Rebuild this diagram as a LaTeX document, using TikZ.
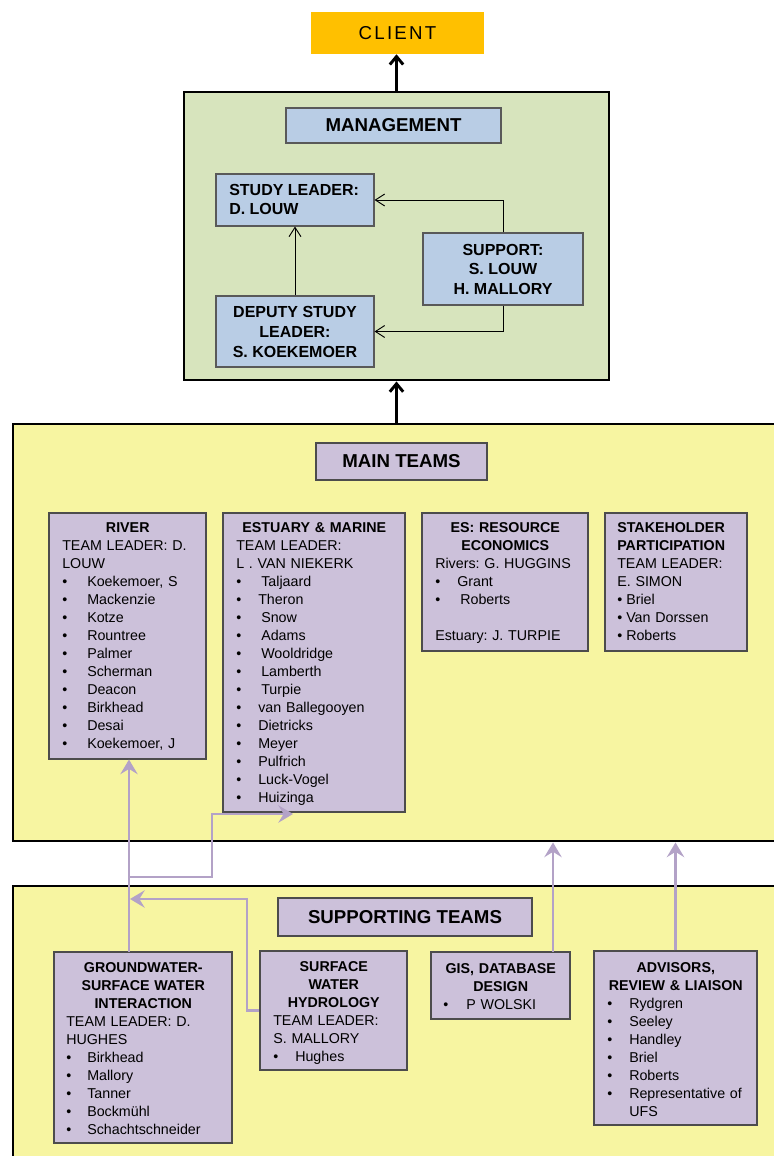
\documentclass[tikz,border=0pt]{standalone}
\usepackage{fontspec}
\setmainfont{Liberation Sans}
\usetikzlibrary{arrows.meta,fit}
\definecolor{clientor}{HTML}{FFC000}
\definecolor{mgmtgreen}{HTML}{D7E4BD}
\definecolor{mgmtblue}{HTML}{B9CDE5}
\definecolor{teamyel}{HTML}{F7F5A1}
\definecolor{lav}{HTML}{CCC1DA}
\definecolor{lavline}{HTML}{B3A2C7}
\newcommand\bi[2]{\makebox[#1][l]{\textbullet}#2}
\newcommand\ttl[2]{\makebox[#1][c]{\bfseries #2}}
\frenchspacing
\begin{document}
\begin{tikzpicture}[x=0.75pt,y=-0.75pt,
  frame/.style={draw=black, line width=2.2pt, inner sep=0pt},
  mbox/.style={draw=black!65, line width=0.8pt, fill=mgmtblue, inner sep=0pt},
  tbox/.style={draw=black!70, line width=0.8pt, fill=lav, inner sep=0pt},
  bigttl/.style={inner sep=0pt, font=\fontsize{14}{16}\selectfont\bfseries},
  txt/.style={anchor=north west, inner sep=0pt, text width=220pt, align=left,
    font=\fontsize{10.7}{13.5}\selectfont\frenchspacing},
  mtxt/.style={inner sep=0pt, font=\fontsize{12}{14.6}\selectfont\bfseries},
  blackarrow/.style={draw=black, line width=2.2pt, -{Straight Barb[length=6pt,width=10pt]}},
  thinarrow/.style={draw=black, line width=0.7pt, -{Straight Barb[length=7pt,width=9pt]}},
  purparrow/.style={draw=lavline, line width=2.2pt, -{Stealth[length=11pt,width=13pt,inset=4pt]}},
]
\useasboundingbox (0,0) rectangle (774,1156);
\clip (0,0) rectangle (774,1156);
\fill[white] (0,0) rectangle (774,1156);

% outer frames
\node[frame, fill=mgmtgreen, fit={(184,92) (609,380)}] (mgmt) {};
\node[frame, fill=teamyel, fit={(13,424) (800,841)}] (mainbox) {};
\node[frame, fill=teamyel, fit={(13,886) (800,1190)}] (suppbox) {};

% client
\node[fill=clientor, inner sep=0pt, fit={(311,12) (484,54)}] (client) {};
\node[inner sep=0pt, font=\fontsize{14}{16}\selectfont\addfontfeature{LetterSpace=12}] (clientt) at (client.center) {CLIENT};

% management inner boxes
\node[mbox, fit={(286,108) (501,143)}] (mgtitle) {};
\node[bigttl] (mgtitlet) at (mgtitle.center) {MANAGEMENT};
\node[mbox, fit={(216,174) (374,226)}] (study) {};
\node[mbox, fit={(423,233) (583,305)}] (support) {};
\node[mbox, fit={(216,296) (374,367)}] (deputy) {};

% team titles
\node[tbox, fit={(316,443) (487,480)}] (maintitle) {};
\node[bigttl] (maintitlet) at (maintitle.center) {MAIN TEAMS};
\node[tbox, fit={(278,898) (532,936)}] (supptitle) {};
\node[bigttl] (supptitlet) at (supptitle.center) {SUPPORTING TEAMS};

% main team boxes
\node[tbox, fit={(49,513) (206,759)}] (river) {};
\node[tbox, fit={(223,513) (405,812)}] (estuary) {};
\node[tbox, fit={(422,513) (588,651)}] (econ) {};
\node[tbox, fit={(605,513) (747,651)}] (stake) {};

% supporting team boxes
\node[tbox, fit={(54,952) (232,1143)}] (gw) {};
\node[tbox, fit={(260,951) (407,1070)}] (sw) {};
\node[tbox, fit={(431,952) (570,1019)}] (gis) {};
\node[tbox, fit={(594,951) (757,1125)}] (adv) {};

% black connectors
\draw[blackarrow] (mgmt.north) -- (mgmt.north |- client.south);
\draw[blackarrow] (mgmt.south |- mainbox.north) -- (mgmt.south);
\draw[thinarrow] (support.north) |- (study.east);
\draw[thinarrow] (support.south) |- (deputy.east);
\draw[thinarrow] (deputy.north) -- (study.south);

% purple connectors
\coordinate (gwtop) at (129,952);
\coordinate (j1) at (129,877);
\coordinate (b1) at (212,877);
\coordinate (b2) at (212,814);
\coordinate (e1) at (293,814);
\coordinate (j2) at (130,899);
\coordinate (s1) at (247,1010.5);
\coordinate (g1) at (553,952);
\draw[purparrow] (gwtop) -- (gwtop |- river.south);
\draw[purparrow] (j1) -- (b1) -- (b2) -- (e1);
\draw[purparrow] (sw.west) -- (s1) |- (j2);
\draw[purparrow] (g1) -- (g1 |- mainbox.south);
\draw[purparrow] (adv.north) -- (adv.north |- mainbox.south);

% management texts
\node[mtxt, anchor=north west, align=left] (studyt) at (229,184) {STUDY LEADER:\\D. LOUW};
\node[mtxt, anchor=north, align=center] (supportt) at (503,244) {SUPPORT:\\S. LOUW\\H. MALLORY};
\node[mtxt, anchor=north, align=center, font=\fontsize{12}{15}\selectfont\bfseries] (deputyt) at (295,306) {DEPUTY STUDY\\LEADER:\\S. KOEKEMOER};

% main team texts
\node[txt] (rivert) at (62,522) {\ttl{98.25pt}{RIVER}\\TEAM LEADER: D.\\LOUW\\
\bi{18.75pt}{Koekemoer, S}\\\bi{18.75pt}{Mackenzie}\\\bi{18.75pt}{Kotze}\\
\bi{18.75pt}{Rountree}\\\bi{18.75pt}{Palmer}\\\bi{18.75pt}{Scherman}\\
\bi{18.75pt}{Deacon}\\\bi{18.75pt}{Birkhead}\\\bi{18.75pt}{Desai}\\
\bi{18.75pt}{Koekemoer, J}};

\node[txt] (estuaryt) at (236,522) {\ttl{117pt}{ESTUARY \& MARINE}\\TEAM LEADER:\\L . VAN NIEKERK\\
\bi{18.75pt}{Taljaard}\\\bi{16.5pt}{Theron}\\\bi{18.75pt}{Snow}\\
\bi{18.75pt}{Adams}\\\bi{18.75pt}{Wooldridge}\\\bi{18.75pt}{Lamberth}\\
\bi{18.75pt}{Turpie}\\\bi{16.5pt}{van Ballegooyen}\\\bi{16.5pt}{Dietricks}\\
\bi{16.5pt}{Meyer}\\\bi{16.5pt}{Pulfrich}\\\bi{16.5pt}{Luck-Vogel}\\
\bi{16.5pt}{Huizinga}};

\node[txt] (econt) at (435,522) {\ttl{105pt}{ES: RESOURCE}\\\ttl{105pt}{ECONOMICS}\\
Rivers: G. HUGGINS\\\bi{16.5pt}{Grant}\\\bi{18.75pt}{Roberts}\\\mbox{}\\
Estuary: J. TURPIE};

\node[txt] (staket) at (617,522) {\textbf{STAKEHOLDER}\\\textbf{PARTICIPATION}\\
TEAM LEADER:\\E. SIMON\\\bi{6.75pt}{Briel}\\\bi{6.75pt}{Van Dorssen}\\
\bi{6.75pt}{Roberts}};

% supporting team texts
\node[txt] (gwt) at (66,962) {\ttl{115.5pt}{GROUNDWATER-}\\\ttl{115.5pt}{SURFACE WATER}\\
\ttl{115.5pt}{INTERACTION}\\TEAM LEADER: D.\\HUGHES\\
\bi{15.75pt}{Birkhead}\\\bi{15.75pt}{Mallory}\\\bi{15.75pt}{Tanner}\\
\bi{15.75pt}{Bockmühl}\\\bi{15.75pt}{Schachtschneider}};

\node[txt] (swt) at (273,961) {\ttl{90.75pt}{SURFACE}\\\ttl{90.75pt}{WATER}\\
\ttl{90.75pt}{HYDROLOGY}\\TEAM LEADER:\\S. MALLORY\\\bi{16.5pt}{Hughes}};

\node[txt] (gist) at (443,963) {\ttl{86.25pt}{GIS, DATABASE}\\\ttl{86.25pt}{DESIGN}\\
\bi{17.25pt}{P WOLSKI}};

\node[txt] (advt) at (607,962) {\ttl{102.75pt}{ADVISORS,}\\\ttl{102.75pt}{REVIEW \& LIAISON}\\
\bi{16.5pt}{Rydgren}\\\bi{16.5pt}{Seeley}\\\bi{16.5pt}{Handley}\\
\bi{16.5pt}{Briel}\\\bi{16.5pt}{Roberts}\\\bi{16.5pt}{Representative of}\\
\hspace*{16.5pt}UFS};
\end{tikzpicture}
\end{document}
